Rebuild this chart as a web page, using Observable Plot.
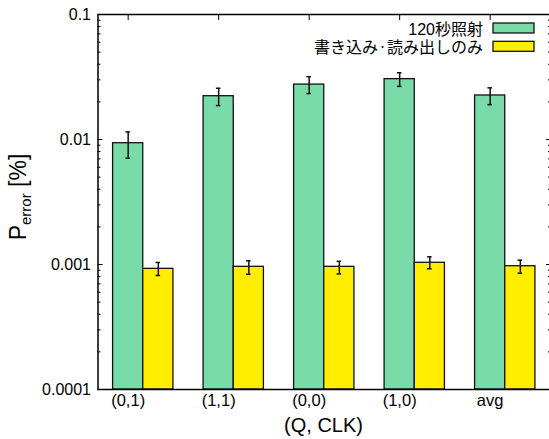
<!DOCTYPE html>
<html><head><meta charset="utf-8">
<script src="https://cdn.jsdelivr.net/npm/d3@7"></script>
<script src="https://cdn.jsdelivr.net/npm/@observablehq/plot@0.6"></script>
<style>
html,body{margin:0;padding:0;background:#fff;overflow:hidden;}
#chart svg{display:block;max-width:none;}
</style></head><body><div id="chart"></div>
<script>
const categories = ["(0,1)", "(1,1)", "(0,0)", "(1,0)", "avg"];
const seriesNames = ["120秒照射", "書き込み・読み出しのみ"];
const seriesColors = ["#78dba8", "#ffee00"];
const irradiated   = [0.00934, 0.0222, 0.0275, 0.0304, 0.0225];
const irradiatedLo = [0.00709, 0.0187, 0.0233, 0.0266, 0.0190];
const irradiatedHi = [0.0115, 0.0257, 0.0318, 0.0342, 0.0259];
const rwOnly   = [0.000923, 0.000958, 0.000958, 0.001032, 0.000969];
const rwOnlyLo = [0.000817, 0.000836, 0.000840, 0.000924, 0.000852];
const rwOnlyHi = [0.001038, 0.001070, 0.001060, 0.001152, 0.001082];
const yTickValues = [0.0001, 0.001, 0.01, 0.1];
const yTickLabels = ["0.0001", "0.001", "0.01", "0.1"];
const xLabel = "(Q, CLK)";

const bars = [];
categories.forEach((c, i) => {
  bars.push({i, s: 0, v: irradiated[i], lo: irradiatedLo[i], hi: irradiatedHi[i]});
  bars.push({i, s: 1, v: rwOnly[i], lo: rwOnlyLo[i], hi: rwOnlyHi[i]});
});
const bw = 1 / 3;
const bx1 = d => d.i - bw / 2 + d.s * bw;
const bx2 = d => bx1(d) + bw;
const bxc = d => bx1(d) + bw / 2;
const cap = 0.025;
const minorTicks = [];
for (const dec of [1e-4, 1e-3, 1e-2]) for (let k = 2; k <= 9; k++) minorTicks.push(dec * k);
const catIdx = categories.map((c, i) => i);

const font = "'Liberation Sans', Arial, 'Noto Sans CJK JP', sans-serif";

const plot = Plot.plot({
  width: 549, height: 439,
  marginLeft: 97.5, marginRight: -1, marginTop: 14, marginBottom: 50,
  style: {fontFamily: font, fontSize: "16px", color: "black", background: "white"},
  x: {type: "linear", domain: [-1 / 3, 14 / 3]},
  y: {type: "log", domain: [1e-4, 1e-1]},
  marks: [
    Plot.axisY({anchor: "left", ticks: yTickValues, tickSize: 0, tickPadding: 7,
      tickFormat: d => yTickLabels[yTickValues.indexOf(d)], label: null, fontSize: 16}),
    Plot.axisY({anchor: "left", ticks: yTickValues, tickSize: -5, tickFormat: () => "", label: null}),
    Plot.axisY({anchor: "left", ticks: minorTicks, tickSize: -3, tickFormat: () => "", label: null}),
    Plot.axisY({anchor: "right", ticks: yTickValues, tickSize: -5, tickFormat: () => "", label: null}),
    Plot.axisY({anchor: "right", ticks: minorTicks, tickSize: -3, tickFormat: () => "", label: null}),
    Plot.axisX({anchor: "top", ticks: catIdx, tickSize: -5, tickFormat: () => "", label: null}),
    Plot.axisX({anchor: "bottom", ticks: catIdx, tickSize: 0, tickPadding: 5,
      tickFormat: d => categories[d], label: null, fontSize: 16.5}),
    Plot.rect(bars, {x1: bx1, x2: bx2, y1: () => yTickValues[0], y2: "v",
      fill: d => seriesColors[d.s], stroke: "#111", strokeWidth: 1.3}),
    Plot.ruleX(bars, {x: bxc, y1: "lo", y2: "hi", stroke: "#111", strokeWidth: 1.5}),
    Plot.ruleY(bars, {y: "lo", x1: d => bxc(d) - cap, x2: d => bxc(d) + cap, stroke: "#111", strokeWidth: 1.5}),
    Plot.ruleY(bars, {y: "hi", x1: d => bxc(d) - cap, x2: d => bxc(d) + cap, stroke: "#111", strokeWidth: 1.5}),
    Plot.frame({stroke: "black", strokeWidth: 1.5})
  ]
});
document.getElementById("chart").appendChild(plot);

const svg = d3.select(plot);
// legend
const lg = svg.append("g").attr("font-family", font).attr("font-size", 16);
seriesNames.forEach((name, i) => {
  const t = lg.append("text").attr("x", 483).attr("y", 34.5 + i * 18.3)
    .attr("text-anchor", "end").attr("fill", "black");
  const parts = name.split("・");
  parts.forEach((p, j) => {
    if (j > 0) {
      t.append("tspan").attr("font-size", 9).attr("dy", -3).text("・");
      t.append("tspan").attr("dy", 3).text(p);
    } else {
      t.append("tspan").text(p);
    }
  });
  lg.append("rect").attr("x", 493).attr("y", 23 + i * 18.3).attr("width", 41).attr("height", 10)
    .attr("fill", seriesColors[i]).attr("stroke", "#111").attr("stroke-width", 1.3);
});
// x label
svg.append("text").attr("x", 323.5).attr("y", 432).attr("text-anchor", "middle")
  .attr("font-family", font).attr("font-size", 20).attr("fill", "black").text(xLabel);
// y label
const yl = svg.append("text").attr("transform", "translate(26,197) rotate(-90)")
  .attr("text-anchor", "middle").attr("font-family", font).attr("font-size", 23).attr("fill", "black");
yl.append("tspan").text("P");
yl.append("tspan").attr("font-size", 15).attr("dy", 5).text("error");
yl.append("tspan").attr("dy", -5).text(" [%]");
</script></body></html>
